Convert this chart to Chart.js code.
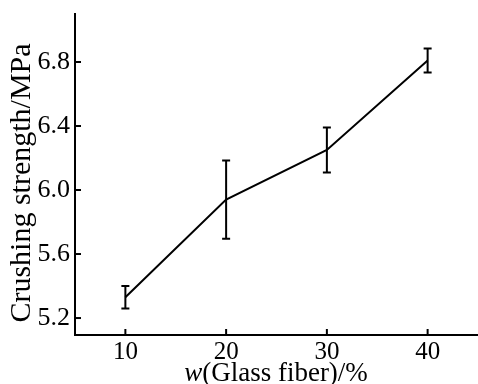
<!DOCTYPE html>
<html lang="en">
<head>
  <meta charset="UTF-8">
  <title>Crushing strength</title>
  <script src="https://cdn.jsdelivr.net/npm/chart.js"></script>
  <style>
    html, body { margin: 0; padding: 0; background: #fff; }
    #wrap { width: 478px; height: 384px; }
  </style>
</head>
<body>
  <div id="wrap"><canvas id="grafica" width="478" height="384"></canvas></div>

  <script>
    // datos
    const fibra = [10, 20, 30, 40];
    const resistencia = [5.33, 5.94, 6.25, 6.81];
    const error = [0.07, 0.245, 0.14, 0.075];
    const ticksX = [10, 20, 30, 40];
    const ticksY = [5.2, 5.6, 6.0, 6.4, 6.8];

    const fuente = '"Liberation Serif", "Times New Roman", serif';

    // barras de error, marcas hacia dentro y titulos
    const extras = {
      id: 'extras',
      afterDatasetsDraw(chart) {
        const ctx = chart.ctx;
        const x = chart.scales.x, y = chart.scales.y;
        ctx.save();
        ctx.strokeStyle = '#000';
        ctx.lineWidth = 2;
        fibra.forEach((f, i) => {
          const px = x.getPixelForValue(f);
          const top = y.getPixelForValue(resistencia[i] + error[i]);
          const bot = y.getPixelForValue(resistencia[i] - error[i]);
          ctx.beginPath();
          ctx.moveTo(px, top); ctx.lineTo(px, bot);
          ctx.moveTo(px - 4, top); ctx.lineTo(px + 4, top);
          ctx.moveTo(px - 4, bot); ctx.lineTo(px + 4, bot);
          ctx.stroke();
        });
        // ticks
        const area = chart.chartArea;
        ticksX.forEach(t => {
          const px = x.getPixelForValue(t);
          ctx.beginPath();
          ctx.moveTo(px, area.bottom); ctx.lineTo(px, area.bottom - 6);
          ctx.stroke();
        });
        ticksY.forEach(t => {
          const py = y.getPixelForValue(t);
          ctx.beginPath();
          ctx.moveTo(area.left, py); ctx.lineTo(area.left + 6, py);
          ctx.stroke();
        });
        // titulo eje x con w en cursiva
        ctx.fillStyle = '#000';
        ctx.textBaseline = 'alphabetic';
        const italica = 'italic 27px ' + fuente;
        const normal = '27px ' + fuente;
        ctx.font = italica;
        const w1 = ctx.measureText('w').width;
        ctx.font = normal;
        const w2 = ctx.measureText('(Glass fiber)/%').width;
        const x0 = 276 - (w1 + w2) / 2;
        ctx.font = italica;
        ctx.fillText('w', x0, 381);
        ctx.font = normal;
        ctx.fillText('(Glass fiber)/%', x0 + w1, 381);
        // titulo eje y
        ctx.translate(22, 183);
        ctx.rotate(-Math.PI / 2);
        ctx.textAlign = 'center';
        ctx.textBaseline = 'middle';
        ctx.font = '30px ' + fuente;
        ctx.fillText('Crushing strength/MPa', 0, 0);
        ctx.restore();
      }
    };

    new Chart(document.getElementById('grafica'), {
      type: 'line',
      data: {
        datasets: [{
          data: fibra.map((f, i) => ({ x: f, y: resistencia[i] })),
          borderColor: '#000',
          borderWidth: 2,
          pointRadius: 0,
          tension: 0,
          fill: false
        }]
      },
      options: {
        responsive: false,
        animation: false,
        layout: { padding: { top: 14, right: 0, left: 0, bottom: 0 } },
        plugins: { legend: { display: false }, tooltip: { enabled: false } },
        scales: {
          x: {
            type: 'linear',
            min: 5, max: 45,
            afterBuildTicks: s => { s.ticks = ticksX.map(v => ({ value: v })); },
            afterFit: s => { s.height = 49; s.paddingLeft = 0; s.paddingRight = 0; },
            grid: { display: false, drawTicks: false },
            border: { color: '#000', width: 2 },
            ticks: { color: '#000', padding: 2, font: { family: fuente, size: 25 } },
            title: { display: false }
          },
          y: {
            min: 5.094, max: 7.1,
            afterBuildTicks: s => { s.ticks = ticksY.map(v => ({ value: v })); },
            afterFit: s => { s.width = 75; s.paddingTop = 0; s.paddingBottom = 0; },
            grid: { display: false, drawTicks: false },
            border: { color: '#000', width: 2 },
            ticks: {
              color: '#000', padding: 5,
              font: { family: fuente, size: 26 },
              callback: v => v.toFixed(1)
            },
            title: { display: false }
          }
        }
      },
      plugins: [extras]
    });
  </script>
</body>
</html>
